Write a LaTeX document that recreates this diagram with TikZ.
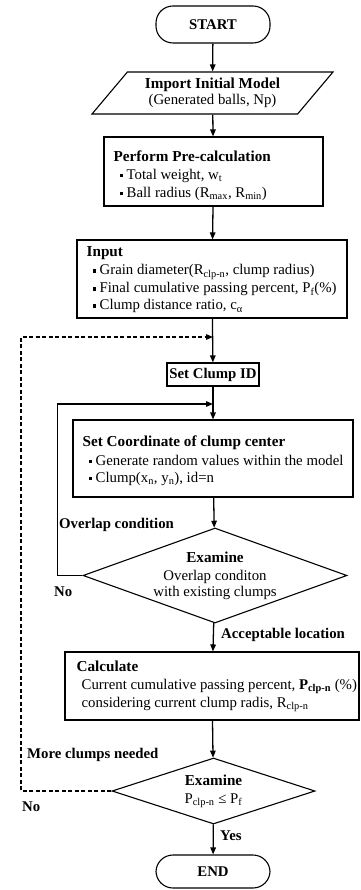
\documentclass[tikz,border=0pt]{standalone}
\usepackage{fontspec}
\setmainfont{Liberation Serif}
\usepackage{tikz}
\usetikzlibrary{arrows.meta}
\usetikzlibrary{shapes.geometric}
\usetikzlibrary{calc}
\newcommand{\flowfont}{\fontsize{14.8}{18}\selectfont}
\newcommand{\headfont}{\fontsize{15.2}{18}\selectfont\bfseries}
\newcommand{\head}[1]{{\headfont #1}}
\newcommand{\bul}{\hspace*{6pt}\raisebox{0.35ex}{\rule{3.3pt}{3.3pt}}\ }
\tikzstyle{startstop}=[rectangle,draw,line width=1.1pt,rounded corners=17pt,font=\flowfont\bfseries,minimum width=114pt]
\tikzstyle{io}=[trapezium,trapezium left angle=40,trapezium right angle=140,trapezium stretches body,draw,line width=1.1pt,align=center,inner sep=0pt,font=\flowfont]
\tikzstyle{process}=[rectangle,draw,line width=1.1pt,inner sep=0pt,font=\flowfont]
\tikzstyle{boxtext}=[anchor=west,align=left,inner sep=0pt,font=\flowfont]
\tikzstyle{decision}=[diamond,draw,line width=1.1pt,align=center,inner sep=0pt,font=\flowfont]
\tikzstyle{flow}=[-{Triangle[length=7pt,width=5.5pt]},line width=1.3pt]
\tikzstyle{back}=[flow,dash pattern=on 4pt off 2.5pt]
\tikzstyle{lbl}=[font=\flowfont\bfseries,anchor=west,inner sep=0pt]

\begin{document}
\begin{tikzpicture}[x=1pt,y=-1pt]
\useasboundingbox (0,0) rectangle (360,890);

%Main column
\node[startstop,minimum height=37pt] (start) at (213,24.5) {START};
\node[io,minimum width=241pt,minimum height=42pt] (import) at (212.5,93)
    {\head{Import Initial Model}\\[-2pt](Generated balls, Np)};

\node[process,minimum width=219pt,minimum height=69pt] (precalc) at (213.5,171.5) {};
\node[boxtext] (precalctxt) at ([xshift=10pt,yshift=-4pt]precalc.west)
    {\head{Perform Pre-calculation}\\
     \bul Total weight, w\textsubscript{t}\\
     \bul Ball radius (R\textsubscript{max}, R\textsubscript{min})};

\node[process,minimum width=270pt,minimum height=78pt] (input) at (212,279) {};
\node[boxtext] (inputtxt) at ([xshift=10pt,yshift=-1pt]input.west)
    {\head{Input}\\
     \bul Grain diameter(R\textsubscript{clp-n}, clump radius)\\
     \bul Final cumulative passing percent, P\textsubscript{f}(\%)\\[-1pt]
     \bul Clump distance ratio, c\textsubscript{α}};

\node[process,font=\flowfont\bfseries,minimum width=92pt,minimum height=23pt] (clumpid) at (213,374.5) {Set Clump ID};

\node[process,minimum width=280pt,minimum height=77pt] (coord) at (213,458.5) {};
\node[boxtext] (coordtxt) at ([xshift=10pt,yshift=-2pt]coord.west)
    {\head{Set Coordinate of clump center}\\[1pt]
     \bul Generate random values within the model\\[-1pt]
     \bul Clump(x\textsubscript{n}, y\textsubscript{n}), id=n};

\node[decision,aspect=2.78,minimum width=264pt,minimum height=95pt] (overlap) at (215,575.5)
    {\head{Examine}\\Overlap conditon\\[-2pt]with existing clumps};

\node[process,minimum width=294pt,minimum height=68pt] (calc) at (212,686) {};
\node[boxtext] (calctxt) at ([xshift=12pt]calc.west)
    {\head{Calculate}\\
     \hspace*{5pt}Current cumulative passing percent, \textbf{P\textsubscript{clp-n}} (\%)\\
     \hspace*{5pt}considering current clump radis, R\textsubscript{clp-n}};

\node[decision,aspect=3.08,minimum width=203pt,minimum height=66pt] (check) at (213.5,791)
    {\head{Examine}\\P\textsubscript{clp-n} ≤ P\textsubscript{f}};
\node[startstop,minimum height=33pt] (finish) at (213,871.5) {END};

\foreach \source/\dest in {start/import, import/precalc, precalc/input, input/clumpid,
    clumpid/coord, coord/overlap, overlap/calc, calc/check, check/finish}
    \draw[flow] (\source) -- (\dest);

%Loops
\coordinate (j1) at (213,404);
\coordinate (j2) at (213,337);
\draw[flow] (overlap.west) -- ++(-25,0) |- (j1);
\draw[back] (check.west) -- (21,0 |- check.west) |- (j2);

%Labels
\node[lbl] (lover) at (59,525) {Overlap condition};
\node[lbl] (lno1) at (54,592) {No};
\node[lbl] (lacc) at (221,635) {Acceptable location};
\node[lbl] (lmore) at (27,755) {More clumps needed};
\node[lbl] (lno2) at (22,807) {No};
\node[lbl] (lyes) at (220,836) {Yes};

\end{tikzpicture}
\end{document}
